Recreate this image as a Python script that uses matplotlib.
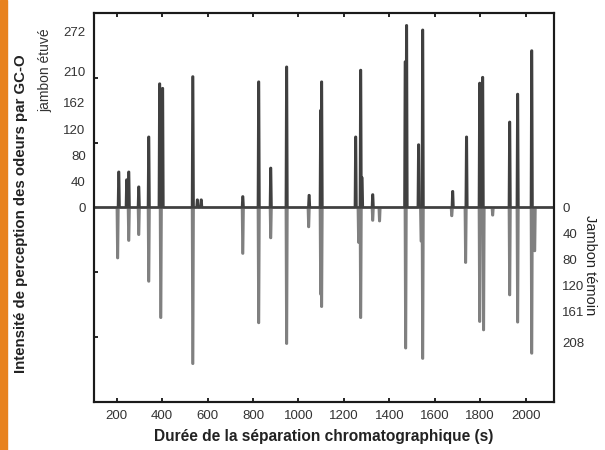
import matplotlib.pyplot as plt
from matplotlib.patches import Rectangle

plt.rcParams['font.family'] = ['Liberation Sans', 'DejaVu Sans']

# jambon étuvé (peaks upward): retention time (s), intensity
etuve_t = [209, 244, 253, 297, 341, 389, 402, 535, 555, 572, 755, 825, 878, 948,
           1047, 1098, 1102, 1252, 1274, 1280, 1327, 1470, 1476, 1529, 1547, 1679,
           1740, 1798, 1811, 1930, 1965, 2027]
etuve_h = [55, 43, 55, 32, 109, 191, 184, 202, 12, 12, 17, 194, 61, 217,
           19, 150, 194, 109, 212, 46, 20, 225, 281, 97, 274, 25,
           109, 192, 201, 132, 175, 242]

# jambon témoin (peaks drawn downward)
temoin_t = [204, 253, 297, 341, 394, 535, 755, 825, 878, 948, 1045, 1098, 1102,
            1265, 1274, 1327, 1357, 1472, 1540, 1547, 1675, 1736, 1798, 1815, 1855,
            1930, 1965, 2027, 2040]
temoin_h = [78, 51, 42, 114, 170, 241, 71, 178, 47, 210, 30, 134, 153,
            54, 170, 20, 21, 217, 52, 233, 13, 85, 176, 189, 12,
            135, 177, 225, 67]

x_ticks = [200, 400, 600, 800, 1000, 1200, 1400, 1600, 1800, 2000]
left_labels = [0, 40, 80, 120, 162, 210, 272]
right_labels = [0, 40, 80, 120, 161, 208]


def build_trace(times, heights, sign=1, hw=3.5, start=100, end=2125):
    xs, ys = [start], [0]
    for t, h in sorted(zip(times, heights)):
        xs += [t - hw, t - hw / 3, t + hw / 3, t + hw]
        ys += [0, sign * h, sign * h, 0]
    xs.append(end)
    ys.append(0)
    return xs, ys


fig = plt.figure(figsize=(6.05, 4.5), dpi=100)
ax = fig.add_axes([0.1554, 0.1067, 0.7603, 0.8644])

xs, ys = build_trace(temoin_t, temoin_h, sign=-1)
ax.plot(xs, ys, color='#808080', lw=1.8)
xs, ys = build_trace(etuve_t, etuve_h, sign=1)
ax.plot(xs, ys, color='#404040', lw=1.8)

ax.set_xlim(100, 2125)
ax.set_ylim(-300, 300)

ax.set_xticks(x_ticks)
ax.tick_params(axis='x', direction='in', top=True, length=3, width=1.2,
               labelsize=9.5, labelcolor='#333333', pad=6)

ax.set_yticks(left_labels, [str(v) for v in left_labels])
ax.set_yticks(range(-300, 301, 100), minor=True)
ax.tick_params(axis='y', which='major', length=0, labelsize=9.5,
               labelcolor='#333333', pad=6)
ax.tick_params(axis='y', which='minor', direction='in', left=True, right=True,
               length=3, width=1.2)

ax2 = ax.twinx()
ax2.set_ylim(-300, 300)
ax2.set_yticks([-v for v in right_labels], [str(v) for v in right_labels])
ax2.tick_params(axis='y', length=0, labelsize=9.5, labelcolor='#333333', pad=6)

for a in (ax, ax2):
    for s in a.spines.values():
        s.set_linewidth(1.5)
        s.set_color('#1a1a1a')

ax.set_xlabel('Durée de la séparation chromatographique (s)', fontsize=11.2,
              fontweight='bold', color='#222222', labelpad=5)
fig.text(0.034, 0.525, 'Intensité de perception des odeurs par GC-O', rotation=90,
         fontsize=10.8, fontweight='bold', color='#222222', ha='center', va='center')
fig.text(0.075, 0.845, 'jambon étuvé', rotation=90, fontsize=10,
         color='#333333', ha='center', va='center')
fig.text(0.975, 0.41, 'Jambon témoin', rotation=-90, fontsize=10.5,
         color='#222222', ha='center', va='center')

fig.patches.append(Rectangle((0, 0), 0.011, 1, transform=fig.transFigure,
                             color='#e8821e', zorder=0))

fig.savefig('out.png', dpi=100)
